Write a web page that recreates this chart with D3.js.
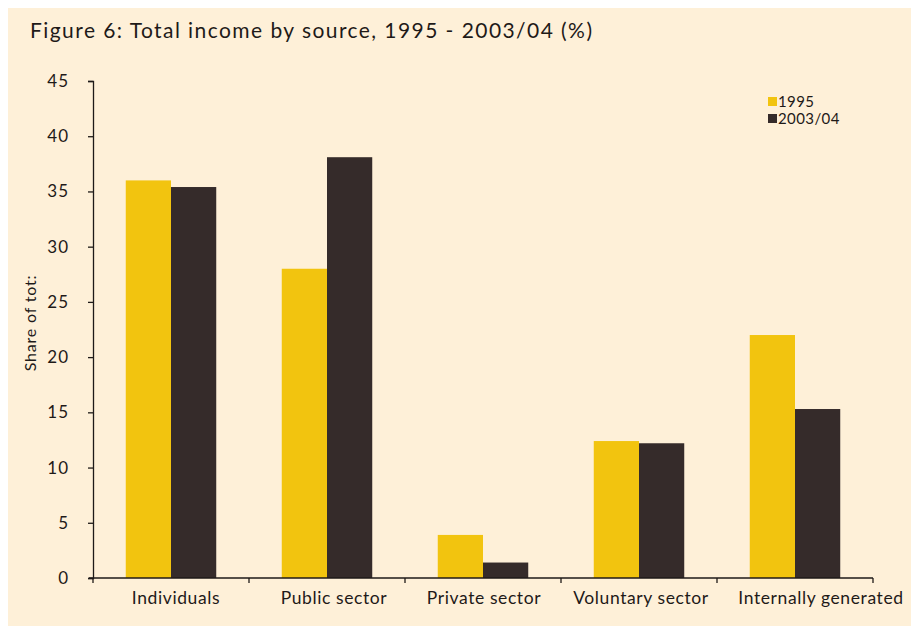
<!DOCTYPE html>
<html>
<head>
<meta charset="utf-8">
<script src="https://cdn.jsdelivr.net/npm/d3@7"></script>
<style>
  html, body { margin: 0; padding: 0; background: #ffffff; }
  svg { display: block; }
  text { font-family: Lato, "Open Sans", sans-serif; fill: #1e1a18; }
</style>
</head>
<body>
<svg id="chart" width="911" height="628"></svg>
<script>
// Income sources and the share of total income (%) for each year
const categories = ["Individuals", "Public sector", "Private sector", "Voluntary sector", "Internally generated"];
const years = ["1995", "2003/04"];
const values1995 = [36.0, 28.0, 3.9, 12.4, 22.0];
const values2003 = [35.4, 38.1, 1.4, 12.2, 15.3];
const yTicks = [0, 5, 10, 15, 20, 25, 30, 35, 40, 45];
const colors = ["#f2c40f", "#352b2a"];

const svg = d3.select("#chart");

// Cream panel behind the figure
svg.append("rect")
  .attr("x", 8).attr("y", 8)
  .attr("width", 903).attr("height", 618)
  .attr("fill", "#fef0d8");

svg.append("text")
  .attr("x", 30).attr("y", 38)
  .attr("font-size", 21)
  .attr("textLength", 562)
  .attr("lengthAdjust", "spacing")
  .text("Figure 6: Total income by source, 1995 - 2003/04 (%)");

const plot = { left: 93, right: 873, top: 81, bottom: 578 };

const x = d3.scaleBand()
  .domain(categories)
  .range([plot.left, plot.right])
  .paddingInner(0.42)
  .paddingOuter(0.21);

const xSub = d3.scaleBand()
  .domain(years)
  .range([0, x.bandwidth()]);

const y = d3.scaleLinear()
  .domain([0, 45])
  .range([plot.bottom, plot.top]);

const series = [values1995, values2003];

const groups = svg.append("g")
  .selectAll("g")
  .data(categories)
  .join("g")
  .attr("transform", d => `translate(${x(d)},0)`);

groups.selectAll("rect")
  .data((c, i) => years.map((yr, k) => ({ yr, v: series[k][i], k })))
  .join("rect")
  .attr("x", d => xSub(d.yr))
  .attr("y", d => y(d.v))
  .attr("width", xSub.bandwidth())
  .attr("height", d => y(0) - y(d.v))
  .attr("fill", d => colors[d.k]);

// Y axis
const yAxis = svg.append("g")
  .attr("transform", `translate(${plot.left},0)`)
  .call(d3.axisLeft(y).tickValues(yTicks).tickSize(5).tickPadding(19));
yAxis.select(".domain").attr("stroke", "#1e1a18").attr("stroke-width", 1.3);
yAxis.selectAll(".tick line").attr("stroke", "#1e1a18").attr("stroke-width", 1.3);
yAxis.selectAll(".tick text")
  .attr("font-size", 17)
  .attr("letter-spacing", 1)
  .attr("font-family", "Lato, 'Open Sans', sans-serif")
  .attr("fill", "#1e1a18");

// X axis with ticks at the boundaries between categories
const bounds = categories.map(c => x(c) - x.step() * x.paddingInner() / 2);
bounds[0] = plot.left;
bounds.push(plot.right);
const xAxisG = svg.append("g");
xAxisG.append("line")
  .attr("x1", plot.left - 4).attr("x2", plot.right)
  .attr("y1", y(0)).attr("y2", y(0))
  .attr("stroke", "#1e1a18").attr("stroke-width", 1.3);
xAxisG.selectAll("line.tk")
  .data(bounds)
  .join("line")
  .attr("class", "tk")
  .attr("x1", d => d).attr("x2", d => d)
  .attr("y1", y(0)).attr("y2", y(0) + 5)
  .attr("stroke", "#1e1a18").attr("stroke-width", 1.3);

// Category labels sit near the centre of each group; the long last label leans right
const labelShift = [5, 7, 1, 2, 26];
xAxisG.selectAll("text")
  .data(categories)
  .join("text")
  .attr("x", (d, i) => x(d) + x.bandwidth() / 2 + labelShift[i])
  .attr("y", 604)
  .attr("text-anchor", "middle")
  .attr("font-size", 17.5)
  .attr("letter-spacing", 0.6)
  .text(d => d);

// Y axis title
svg.append("text")
  .attr("transform", `translate(36,323) rotate(-90)`)
  .attr("text-anchor", "middle")
  .attr("font-size", 16)
  .attr("letter-spacing", 0.8)
  .text("Share of tot:");

// Legend
const legend = svg.append("g").attr("transform", "translate(768,97)");
years.forEach((yr, k) => {
  legend.append("rect")
    .attr("x", 0).attr("y", k * 17)
    .attr("width", 9).attr("height", 9)
    .attr("fill", colors[k]);
  legend.append("text")
    .attr("x", 10).attr("y", k * 17 + 10)
    .attr("font-size", 15)
    .attr("letter-spacing", 0.4)
    .text(yr);
});
</script>
</body>
</html>
